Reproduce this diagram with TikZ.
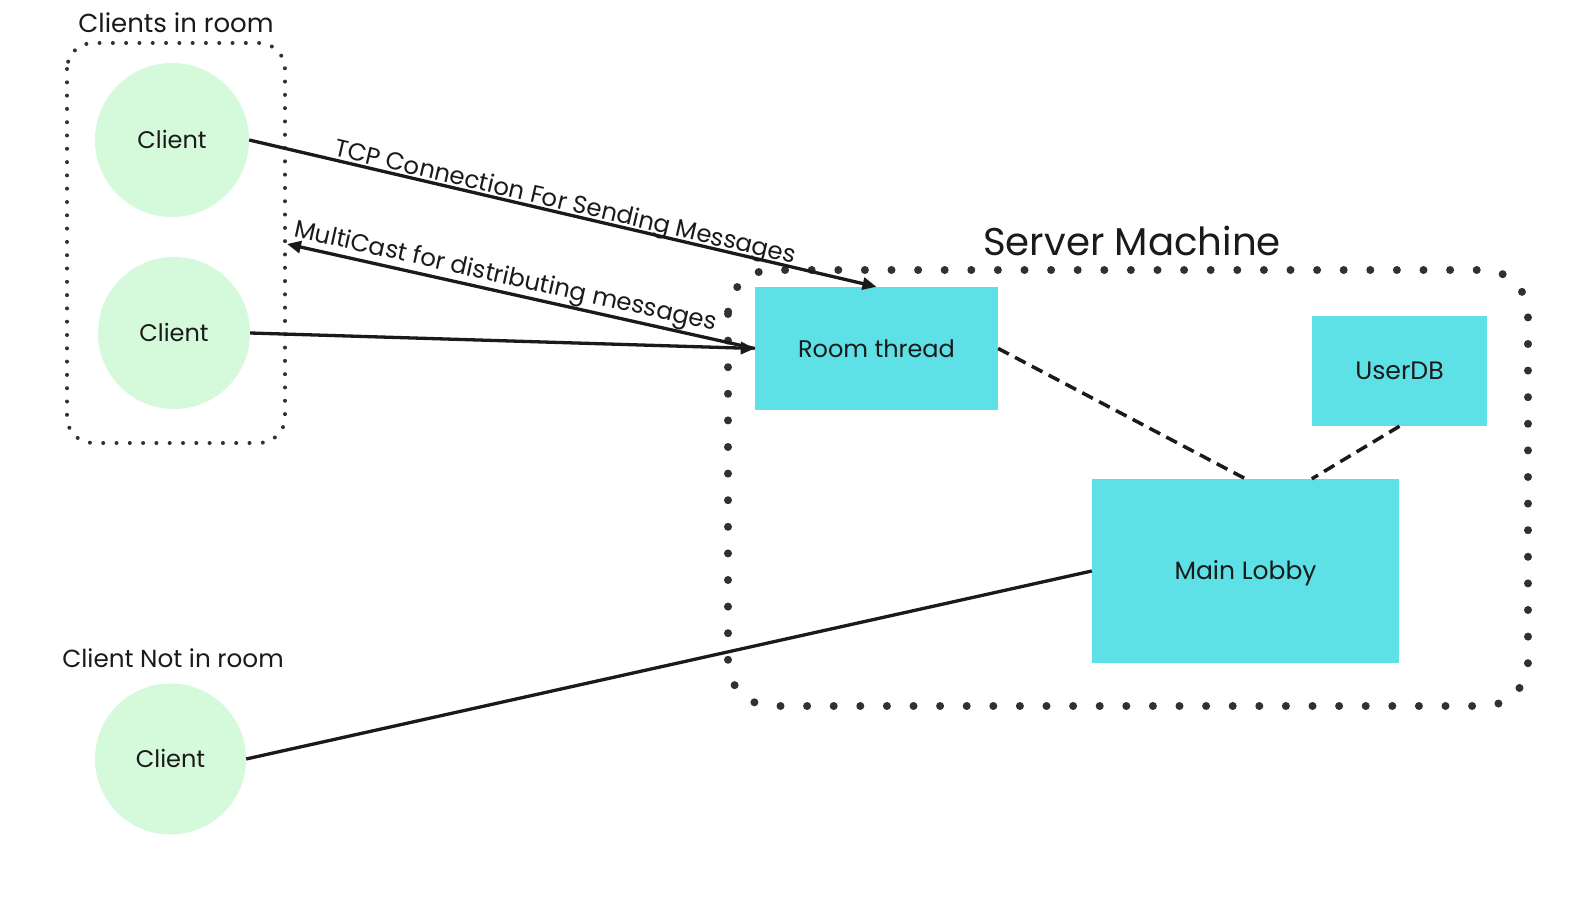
\documentclass[tikz,border=0pt]{standalone}
\usepackage{fontspec}
\setmainfont{Poppins}
\usetikzlibrary{arrows.meta}
\definecolor{mint}{HTML}{D5FADB}
\definecolor{cyanbox}{HTML}{5DE1E6}
\definecolor{ink}{HTML}{1A1A1A}
\newcommand{\fsz}[1]{\fontsize{#1}{#1}\selectfont}
\begin{document}
\begin{tikzpicture}[x=1pt,y=-1pt,
  client/.style={circle, fill=mint, inner sep=0pt, text=ink, font=\fsz{24}, text height=17pt, text depth=0pt},
  srvbox/.style={rectangle, fill=cyanbox, inner sep=0pt, text=ink, font=\fsz{24.5}, text height=17.5pt, text depth=0pt},
  conn/.style={line width=3.3pt, draw=ink},
  tipend/.style={-{Triangle[length=14pt,width=12pt]}},
  tipstart/.style={{Triangle[length=14pt,width=12pt]}-},
  dashline/.style={line width=3.5pt, draw=ink, dash pattern=on 12pt off 7pt},
  smalldots/.style={line width=4pt, draw=ink!90, line cap=round, dash pattern=on 0pt off 13.3pt, rounded corners=26pt},
  bigdots/.style={line width=8pt, draw=ink!90, line cap=round, dash pattern=on 0pt off 26.6pt, rounded corners=44pt},
  lbl/.style={text=ink, anchor=base},
  linelbl/.style={text=ink, font=\fsz{24.4}, sloped, above, inner sep=2pt, text depth=0pt}
]
\useasboundingbox (0,0) rectangle (1588,912);
\fill[white] (0,0) rectangle (1588,912);

% groups
\draw[smalldots] (67,43) rectangle (285,443);
\draw[bigdots] (728,270) rectangle (1528,706);

\node[lbl, font=\fsz{26}] (tclients) at (176,33) {Clients in room};
\node[lbl, font=\fsz{24.7}] (tnot) at (173,667) {Client Not in room};
\node[lbl, font=\fsz{38.7}] (tserver) at (1132,255) {Server Machine};

% clients
\node[client, minimum size=154pt] (c1) at (172,140) {Client};
\node[client, minimum size=152pt] (c2) at (174,333) {Client};
\node[client, minimum size=151pt] (c3) at (170.5,759) {Client};

% server boxes
\node[srvbox, font=\fsz{24}, minimum width=243pt, minimum height=123pt] (room) at (876.5,348.5) {Room thread};
\node[srvbox, font=\fsz{25.2}, minimum width=175pt, minimum height=110pt] (userdb) at (1399.5,371) {UserDB};
\node[srvbox, font=\fsz{25}, minimum width=307pt, minimum height=184pt] (lobby) at (1245.5,571) {Main Lobby};

\coordinate (mc) at (287,244);
\coordinate (lobbyud) at ([xshift=220pt]lobby.north west);

% connectors
\draw[conn, tipend] (c1.east) -- (room.north)
  node[linelbl, pos=0.5] {TCP Connection For Sending Messages};
\draw[conn, tipend] (c2.east) -- (room.west);
\draw[conn, tipstart] (mc) -- (room.west)
  node[linelbl, pos=0.46, inner sep=7pt] {MultiCast for distributing messages};
\draw[dashline] (room.east) -- (lobby.north);
\draw[dashline] (userdb.south) -- (lobbyud);
\draw[conn] (c3.east) -- (lobby.west);
\end{tikzpicture}
\end{document}
